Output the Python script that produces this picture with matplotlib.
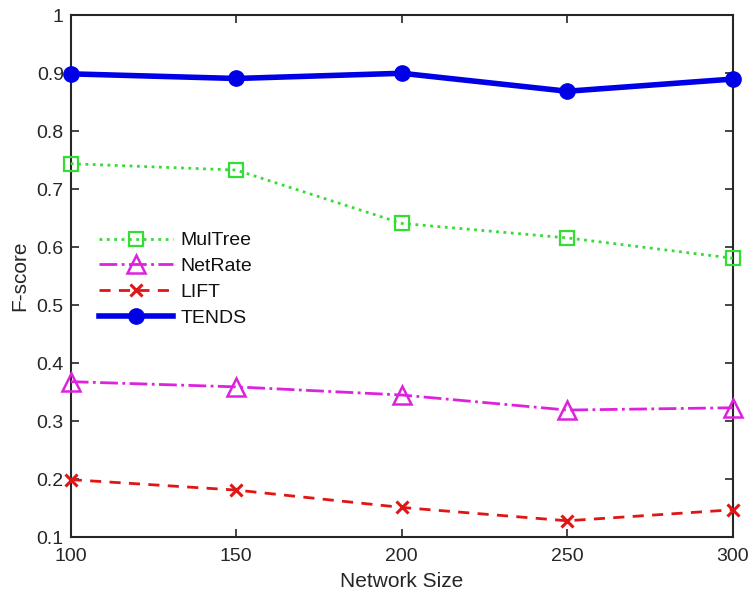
import matplotlib
matplotlib.use("Agg")
import matplotlib.pyplot as plt

plt.rcParams['font.family'] = ['Liberation Sans', 'DejaVu Sans']

network_size = [100, 150, 200, 250, 300]
multree = [0.744, 0.733, 0.641, 0.616, 0.581]
netrate = [0.368, 0.359, 0.345, 0.319, 0.323]
lift = [0.199, 0.181, 0.151, 0.128, 0.147]
tends = [0.899, 0.891, 0.900, 0.869, 0.890]

xticks = [100, 150, 200, 250, 300]
yticks = [0.1, 0.2, 0.3, 0.4, 0.5, 0.6, 0.7, 0.8, 0.9, 1.0]
ytick_labels = ['0.1', '0.2', '0.3', '0.4', '0.5', '0.6', '0.7', '0.8', '0.9', '1']

fig = plt.figure(figsize=(7.54, 5.93), dpi=100)
ax = fig.add_axes([0.0938, 0.0944, 0.8780, 0.8798])

axc = '#262626'
ax.plot(network_size, multree, linestyle=':', color='#33dd33', linewidth=2.0,
        marker='s', markersize=10, markerfacecolor='none', markeredgecolor='#33dd33',
        markeredgewidth=1.6, label='MulTree', clip_on=False, zorder=3)
ax.plot(network_size, netrate, linestyle='-.', color='#dd22dd', linewidth=2.0,
        marker='^', markersize=13, markerfacecolor='none', markeredgecolor='#dd22dd',
        markeredgewidth=1.8, label='NetRate', clip_on=False, zorder=3)
ax.plot(network_size, lift, linestyle='--', color='#e01515', linewidth=2.0,
        dashes=(4, 3), marker='x', markersize=9, markeredgewidth=2.2,
        label='LIFT', clip_on=False, zorder=3)
ax.plot(network_size, tends, linestyle='-', color='#0000e6', linewidth=4.0,
        marker='o', markersize=11, label='TENDS', clip_on=False, zorder=4)

ax.set_xlim(100, 300)
ax.set_ylim(0.1, 1.0)
ax.set_xticks(xticks)
ax.set_xticklabels([str(v) for v in xticks])
ax.set_yticks(yticks)
ax.set_yticklabels(ytick_labels)

ax.tick_params(direction='in', length=6, width=1.2, colors=axc, labelsize=14,
               top=True, right=True, labelcolor=axc)
ax.tick_params(axis='x', pad=8)
ax.tick_params(axis='y', pad=5)
for sp in ax.spines.values():
    sp.set_color(axc)
    sp.set_linewidth(1.5)

ax.set_xlabel('Network Size', fontsize=15, color=axc, labelpad=5)
ax.set_ylabel('F-score', fontsize=15, color=axc, labelpad=5)

leg = ax.legend(loc='upper left', bbox_to_anchor=(0.043, 0.585), frameon=False,
                fontsize=14, handlelength=3.8, handletextpad=0.4,
                labelspacing=0.42, borderpad=0, borderaxespad=0, numpoints=1)
for t in leg.get_texts():
    t.set_color('#111111')

fig.savefig('out.png', dpi=100)
